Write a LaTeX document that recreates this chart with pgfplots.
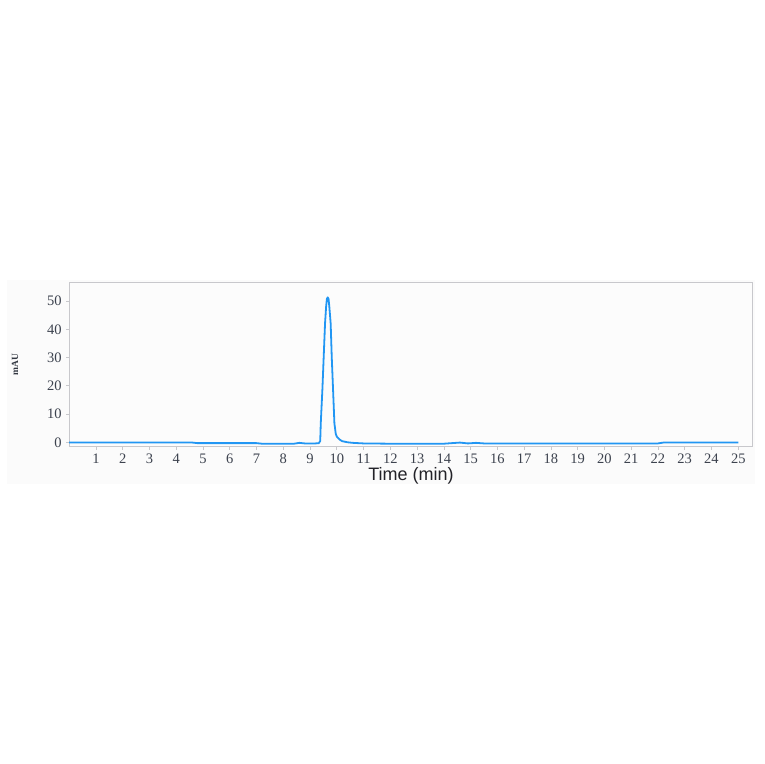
\documentclass[border=0pt]{standalone}
\usepackage{pgfplots}
\pgfplotsset{compat=1.18}
\usepackage{fontspec}
\setmainfont{Liberation Serif}
\newfontfamily\labelsans{Liberation Sans}
\definecolor{curve}{RGB}{33,150,243}
\definecolor{frame}{RGB}{200,200,204}
\definecolor{ticktext}{RGB}{60,66,78}
\definecolor{plotbg}{RGB}{252,252,252}
\begin{document}
\begin{tikzpicture}
\path[use as bounding box] (0,0) rectangle (764pt,764pt);
\fill[fill={rgb,255:red,251;green,251;blue,251}] (7pt,280pt) rectangle (755pt,484pt);
\begin{axis}[
  scale only axis,
  width=683.5pt, height=164pt,
  at={(69.2pt,317.3pt)}, anchor=south west,
  xmin=0, xmax=25.54, ymin=-1.56, ymax=56.5,
  xtick={1,2,...,25}, ytick={0,10,...,50},
  axis line style={frame, line width=0.8pt},
  axis background/.style={fill=plotbg},
  tick style={frame, line width=0.7pt},
  tick align=outside, major tick length=3pt,
  xtick pos=bottom, ytick pos=left,
  /pgf/number format/assume math mode=true,
  ticklabel style={font=\fontsize{14.5}{14.5}\selectfont, text=ticktext},
  xticklabel style={yshift=-0.5pt},
  yticklabel style={xshift=-1pt},
  xlabel={Time (min)},
  xlabel style={font=\labelsans\fontsize{18}{18}\selectfont, text={rgb,255:red,34;green,34;blue,40},
    at={(axis description cs:0.5,0)}, anchor=center, yshift=-29.5pt},
  ylabel={mAU},
  ylabel style={font=\bfseries\fontsize{9.5}{9.5}\selectfont, text={rgb,255:red,50;green,55;blue,65},
    at={(axis description cs:0,0.5)}, anchor=center, yshift=54.2pt},
]
\addplot[curve, line width=1.8pt, line join=round] coordinates {
(0,-0.1) (1,-0.1) (2,-0.1) (3,-0.1) (4,-0.1) (4.6,-0.1) (4.8,-0.3) (6,-0.3) (7,-0.3)
(7.2,-0.5) (8,-0.5) (8.4,-0.5) (8.6,-0.2) (8.8,-0.4) (9.2,-0.4) (9.33,-0.3)
(9.38,0.5) (9.40,6.7) (9.46,18.5) (9.51,30.3) (9.56,42.1) (9.60,48.0) (9.63,50.8)
(9.66,51.3) (9.69,50.8) (9.72,48.0) (9.77,42.1) (9.81,30.3) (9.86,18.5) (9.91,6.7)
(9.96,3.0) (10.0,2.0) (10.1,1.0) (10.2,0.4) (10.4,0) (10.6,-0.2) (11,-0.4)
(12,-0.5) (13,-0.5) (14,-0.5) (14.3,-0.3) (14.6,-0.1) (14.9,-0.4) (15.2,-0.2)
(15.5,-0.4) (16,-0.4) (17,-0.4) (18,-0.4) (19,-0.4) (20,-0.4) (21,-0.4) (22,-0.4)
(22.2,-0.1) (23,-0.1) (24,-0.1) (25,-0.1)
};
\end{axis}
\end{tikzpicture}
\end{document}
